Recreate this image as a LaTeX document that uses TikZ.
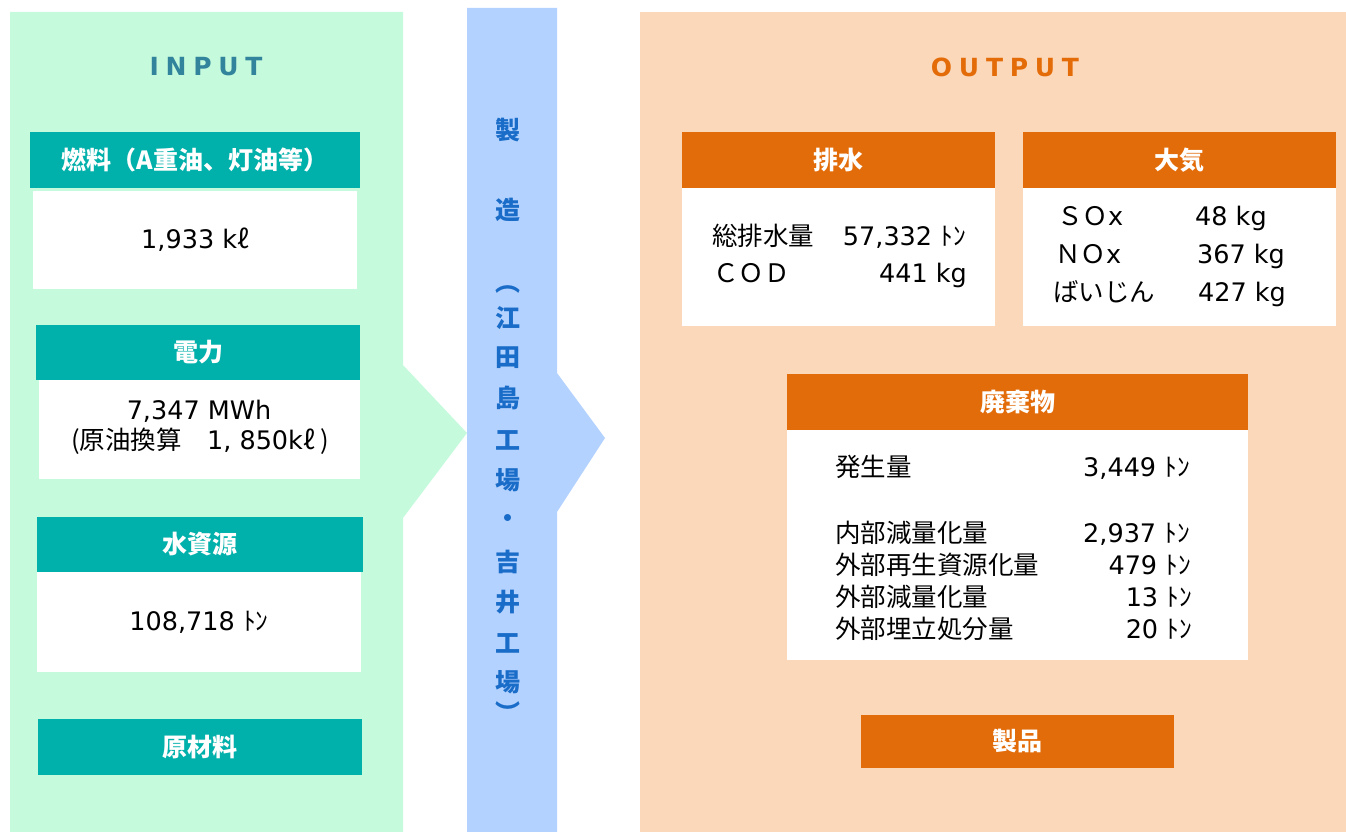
\documentclass[tikz,border=0pt]{standalone}
\usepackage{fontspec}
\setmainfont{Noto Sans CJK JP}
\newfontfamily\lat{DejaVu Sans}
\newfontfamily\latsp{DejaVu Sans}[LetterSpace=27]
\definecolor{cInBg}{RGB}{198,250,221}
\definecolor{cTeal}{RGB}{0,176,170}
\definecolor{cInTxt}{RGB}{49,132,155}
\definecolor{cStrip}{RGB}{180,210,255}
\definecolor{cStripTxt}{RGB}{25,108,200}
\definecolor{cOutBg}{RGB}{251,216,186}
\definecolor{cOrange}{RGB}{227,108,10}
\definecolor{cOutTxt}{RGB}{227,108,9}

\begin{document}
\begin{tikzpicture}[x=1pt,y=-1pt]
        \tikzstyle{inhead} = [rectangle, fill=cTeal, text=white, inner sep=0pt, font=\fontsize{25}{29}\selectfont\bfseries]
        \tikzstyle{outhead} = [rectangle, fill=cOrange, text=white, inner sep=0pt, font=\fontsize{25}{29}\selectfont\bfseries]
        \tikzstyle{body} = [rectangle, fill=white, inner sep=0pt, align=center, font=\fontsize{25.5}{30}\selectfont]
        \tikzstyle{txt} = [inner sep=0pt, text height=23pt, text depth=5pt, font=\fontsize{25.5}{30}\selectfont]
        \tikzstyle{vtxt} = [inner sep=0pt, text=cStripTxt, font=\fontsize{25}{29}\selectfont\bfseries]
        \tikzstyle{title} = [inner sep=0pt, font=\fontsize{25}{30}\selectfont\bfseries\latsp]

                \useasboundingbox (0,0) rectangle (1346,832);
                \fill[cInBg] (10,12) -- (403,12) -- (403,365) -- (467,433) -- (403,518) -- (403,832) -- (10,832) -- cycle;
                \fill[cStrip] (467,8) -- (557,8) -- (557,373) -- (605,438) -- (557,512) -- (557,832) -- (467,832) -- cycle;
                \fill[cOutBg] (640,12) rectangle (1346,832);

                \node (input) [title, text=cInTxt] at (206,67) {INPUT};
                \node (output) [title, text=cOutTxt] at (1005,67) {OUTPUT};

                \node (fuel) [inhead, minimum width=330pt, minimum height=56pt] at (195,160) {燃料（A重油、灯油等）};
                \node (fuelval) [body, minimum width=324pt, minimum height=98pt] at (195,240) {{\lat 1,933 k}ℓ};
                \node (power) [inhead, minimum width=324pt, minimum height=55pt] at (198,352.5) {電力};
                \node (powerval) [body, minimum width=321pt, minimum height=99pt] at (199.5,429.5) {};
                \node (powerl1) [txt] at (199,410) {\lat 7,347 MWh};
                \node (powerl2) [txt] at (200,440) {(原油換算　{\lat 1, 850k}ℓ )};
                \node (water) [inhead, minimum width=326pt, minimum height=55pt] at (200,544.5) {水資源};
                \node (waterval) [body, minimum width=324pt, minimum height=100pt] at (199,622) {{\lat 108,718 }ﾄﾝ};
                \node (raw) [inhead, minimum width=324pt, minimum height=56pt] at (200,747) {原材料};

                \foreach \ch/\yy [count=\i] in {製/130, 造/210, ︵/290, 江/318, 田/358, 島/398, 工/440, 場/480, ・/521, 吉/562, 井/602, 工/643, 場/682, ︶/712}
                        \node (plant\i) [vtxt] at (508,\yy) {\ch};

                \node (drain) [outhead, minimum width=313pt, minimum height=56pt] at (838.5,160) {排水};
                \node (drainval) [body, minimum width=313pt, minimum height=138pt] at (838.5,257) {};
                \node (d1l) [txt, anchor=west] at (712,236) {総排水量};
                \node (d1v) [txt, anchor=east] at (966,236) {{\lat 57,332 }ﾄﾝ};
                \node (d2l) [txt, anchor=west] at (713,273) {ＣＯＤ};
                \node (d2v) [txt, anchor=east] at (967,273) {\lat 441 kg};

                \node (air) [outhead, minimum width=313pt, minimum height=56pt] at (1179.5,160) {大気};
                \node (airval) [body, minimum width=313pt, minimum height=138pt] at (1179.5,257) {};
                \node (a1l) [txt, anchor=west] at (1057,216) {ＳＯ{\lat x}};
                \node (a1v) [txt, anchor=west] at (1195,216) {\lat 48 kg};
                \node (a2l) [txt, anchor=west] at (1055,254) {ＮＯ{\lat x}};
                \node (a2v) [txt, anchor=west] at (1197,254) {\lat 367 kg};
                \node (a3l) [txt, anchor=west] at (1053,292) {ばいじん};
                \node (a3v) [txt, anchor=west] at (1198,292) {\lat 427 kg};

                \node (waste) [outhead, minimum width=461pt, minimum height=56pt] at (1017.5,402) {廃棄物};
                \node (wasteval) [body, minimum width=461pt, minimum height=230pt] at (1017.5,545) {};
                \node (w1l) [txt, anchor=west] at (835,467) {発生量};
                \node (w1v) [txt, anchor=east] at (1190,467) {{\lat 3,449 }ﾄﾝ};
                \node (w2l) [txt, anchor=west] at (835,533) {内部減量化量};
                \node (w2v) [txt, anchor=east] at (1190,533) {{\lat 2,937 }ﾄﾝ};
                \node (w3l) [txt, anchor=west] at (835,565) {外部再生資源化量};
                \node (w3v) [txt, anchor=east] at (1191,565) {{\lat 479 }ﾄﾝ};
                \node (w4l) [txt, anchor=west] at (835,597) {外部減量化量};
                \node (w4v) [txt, anchor=east] at (1192,597) {{\lat 13 }ﾄﾝ};
                \node (w5l) [txt, anchor=west] at (835,629) {外部埋立処分量};
                \node (w5v) [txt, anchor=east] at (1192,629) {{\lat 20 }ﾄﾝ};

                \node (product) [outhead, minimum width=313pt, minimum height=53pt] at (1017.5,741.5) {製品};
\end{tikzpicture}
\end{document}
